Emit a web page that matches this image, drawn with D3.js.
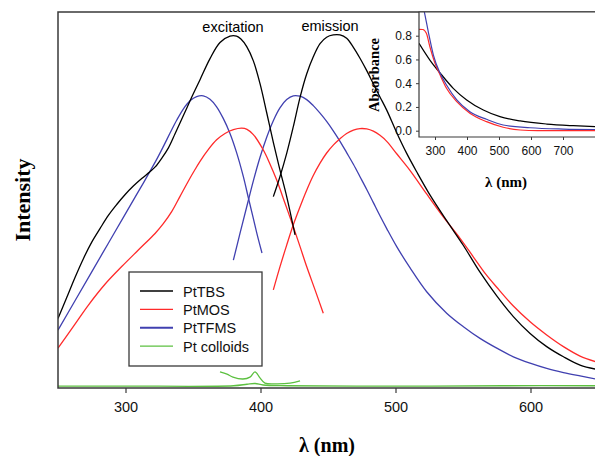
<!DOCTYPE html>
<html>
<head>
<meta charset="utf-8">
<script src="https://cdn.jsdelivr.net/npm/d3@7"></script>
<style>
  html, body { margin: 0; padding: 0; background: #fff; }
  svg { display: block; }
</style>
</head>
<body>
<svg id="chart" width="595" height="456"></svg>
<script>
// Series names and colours
const seriesNames = ["PtTBS", "PtMOS", "PtTFMS", "Pt colloids"];
const seriesColors = ["#000000", "#ff2a2a", "#4040b0", "#5cc040"];

// Main panel: photoluminescence spectra, [wavelength nm, intensity a.u.]
const tbsExcitation = [[250,18.5],[256.4,24.0],[262.6,29.4],[268.8,34.4],[275,38.8],[281.1,42.4],[287.3,45.9],[293.5,48.8],[299.6,51.4],[305.8,53.7],[312,55.7],[318.1,57.5],[322,58.8],[326.8,61.1],[331.7,63.8],[336.7,67.6],[342.8,72.4],[349,77.3],[355.2,82.0],[362.6,87.6],[370,91.9],[377.4,93.6],[382.3,93.6],[385.5,92.8],[389.8,90.8],[394.7,87.0],[399.6,81.0],[404.6,73.2],[409.5,65.3],[414.4,58.0],[419.4,50.9],[425.6,40.7]];
const tbsEmission = [[409.5,50.9],[414.4,56.2],[419.4,62.4],[424.3,69.5],[429.3,77.3],[434.2,83.5],[439.1,88.1],[444.1,91.6],[449,93.3],[453.9,93.9],[458.9,93.9],[463.8,93.0],[468.8,90.6],[473.7,87.7],[478.7,84.4],[483.6,80.9],[488.5,77.4],[493.5,73.9],[500.9,67.9],[508.3,62.4],[515.7,57.5],[525.6,51.3],[537.9,44.5],[550.3,37.9],[562.6,30.8],[575,24.5],[587.3,19.0],[599.7,14.5],[612,11.0],[624.4,8.3],[636.7,6.1],[650,4.9]];
const mosExcitation = [[250,10.6],[262.6,17.0],[272.4,22.0],[284.8,27.6],[297.2,32.3],[309.5,36.7],[321.9,41.1],[328,43.7],[334.2,46.9],[340.3,50.9],[346.5,55.0],[351.5,58.1],[355.2,60.3],[361.3,63.4],[367.5,66.0],[373.7,67.7],[379.9,68.7],[386,69.1],[390,68.8],[394.7,67.4],[402.1,63.3],[407,59.6],[412,55.3],[418.1,49.2],[424.3,42.9],[429.3,37.6],[434.2,32.3],[440.4,26.1],[446.5,19.9]];
const mosEmission = [[409.5,26.1],[414.4,32.2],[419.4,38.0],[424.3,43.4],[429.3,48.2],[434.2,52.6],[439.1,56.5],[444.1,59.8],[449,62.5],[453.9,64.6],[458.9,66.3],[463.8,67.7],[468.8,68.6],[473.7,69.0],[478.7,68.9],[483.6,68.3],[488.5,67.2],[493.5,65.6],[500.9,62.3],[510.7,57.9],[523.1,51.6],[535.4,45.5],[547.8,39.8],[557.6,34.9],[567,30.2],[575,26.8],[587.3,21.8],[599.7,17.6],[612,14.1],[624.4,11.0],[636.7,8.5],[650,6.8]];
const tfmsExcitation = [[250,15.4],[262.6,23.2],[275,30.9],[287.3,38.5],[299.6,46.1],[308.3,51.5],[313.2,54.5],[318.1,57.6],[323.1,60.8],[328,64.2],[333,67.8],[337.9,71.2],[342.8,74.2],[347.8,76.4],[352.7,77.5],[357.6,77.7],[362.6,76.8],[367.5,74.8],[372.4,71.7],[377.4,67.7],[382.3,62.6],[387.3,56.2],[391,50.6],[394.5,45.4],[397.4,41.0],[401.1,35.9]];
const tfmsEmission = [[379.9,34.0],[384.8,41.1],[389.8,48.2],[394.7,55.1],[399.6,61.3],[404.6,66.7],[409.5,71.1],[414.4,74.5],[419.4,76.7],[424.3,77.7],[429.3,77.6],[434.2,76.7],[439.1,75.1],[444.1,73.1],[449,70.9],[453.9,68.4],[458.9,65.6],[463.8,62.6],[468.8,59.5],[473.7,56.2],[478.7,52.8],[483.6,49.3],[488.5,45.8],[493.5,42.4],[500.9,37.6],[510.7,32.0],[523.1,25.6],[537.9,19.9],[550.3,16.3],[562.6,13.2],[575,10.6],[587.3,8.3],[599.7,6.6],[612,5.2],[624.4,4.1],[636.7,3.2],[650,2.3]];
const colloidExcitation = [[370,4.3],[375.2,3.7],[379.6,2.9],[387,2.4],[392.2,2.9],[395.9,4.3],[399.6,2.7],[403.3,1.3],[412.2,1.1],[421.9,1.3],[429.3,1.9]];
const colloidEmission = [[250,0.5],[300,0.5],[380,0.6],[390,1.0],[396,1.2],[402,0.8],[420,0.6],[500,0.5],[580,0.6],[650,0.6]];

// Inset: absorption spectra, [wavelength nm, absorbance]
const tbsAbsorbance = [[250,0.736],[284,0.595],[321,0.469],[357,0.357],[399,0.259],[451,0.174],[503,0.118],[566,0.082],[649,0.056],[732,0.042],[800,0.034]];
const mosAbsorbance = [[250,0.854],[262,0.852],[273,0.82],[284,0.707],[300,0.568],[316,0.469],[336,0.357],[368,0.244],[409,0.147],[461,0.076],[513,0.029],[566,0.006],[620,0.0],[800,0.0]];
const tfmsAbsorbance = [[250,1.2],[267,0.997],[280,0.82],[295,0.637],[316,0.483],[336,0.385],[368,0.259],[409,0.16],[461,0.096],[513,0.048],[597,0.025],[701,0.014],[800,0.01]];

const mainTicks = [300, 400, 500, 600];
const insetXTicks = [300, 400, 500, 600, 700];
const insetYTicks = [0.0, 0.2, 0.4, 0.6, 0.8];

const svg = d3.select("#chart");
const axisColor = "#3a3a3a";
const sans = "Arial, 'Liberation Sans', Helvetica, sans-serif";
const serif = "'Times New Roman', 'Liberation Serif', Times, serif";

// ---------- main panel ----------
const M = { left: 58, top: 12, right: 598, bottom: 388 };
const x = d3.scaleLinear().domain([250, 650]).range([M.left, M.right]);
const y = d3.scaleLinear().domain([0, 100]).range([M.bottom, M.top]);

svg.append("defs").append("clipPath").attr("id", "mainClip")
  .append("rect").attr("x", M.left).attr("y", M.top)
  .attr("width", M.right - M.left).attr("height", M.bottom - M.top);

const line = d3.line().x(d => x(d[0])).y(d => y(d[1])).curve(d3.curveCatmullRom.alpha(0.5));

const mainSeries = [
  { data: colloidEmission, c: 3 },
  { data: colloidExcitation, c: 3 },
  { data: tfmsExcitation, c: 2 },
  { data: tfmsEmission, c: 2 },
  { data: mosExcitation, c: 1 },
  { data: mosEmission, c: 1 },
  { data: tbsExcitation, c: 0 },
  { data: tbsEmission, c: 0 }
];
const plot = svg.append("g").attr("clip-path", "url(#mainClip)");
plot.selectAll("path.spec").data(mainSeries).join("path")
  .attr("class", "spec")
  .attr("d", d => line(d.data))
  .attr("fill", "none")
  .attr("stroke", d => seriesColors[d.c])
  .attr("stroke-width", 1.3)
  .attr("stroke-linejoin", "round");

// frame: left, top and bottom lines
svg.append("path")
  .attr("d", `M${M.right},${M.top}H${M.left}V${M.bottom}H${M.right}`)
  .attr("fill", "none").attr("stroke", axisColor).attr("stroke-width", 1.5);

const xAxis = svg.append("g").attr("transform", `translate(0,${M.bottom})`)
  .call(d3.axisBottom(x).tickValues(mainTicks).tickSize(5).tickPadding(9));
xAxis.select(".domain").remove();
xAxis.selectAll("line").attr("stroke", axisColor).attr("stroke-width", 1.2);
xAxis.selectAll("text").attr("font-family", sans).attr("font-size", 14.5).attr("fill", "#111");

svg.append("text").attr("x", 327).attr("y", 452).attr("text-anchor", "middle")
  .attr("font-family", serif).attr("font-weight", "bold").attr("font-size", 20)
  .text("λ (nm)");
svg.append("text").attr("transform", "translate(30,200) rotate(-90)")
  .attr("text-anchor", "middle")
  .attr("font-family", serif).attr("font-weight", "bold").attr("font-size", 22)
  .text("Intensity");

// peak annotations
svg.append("text").attr("x", 233).attr("y", 32).attr("text-anchor", "middle")
  .attr("font-family", sans).attr("font-size", 14.5).text("excitation");
svg.append("text").attr("x", 330).attr("y", 31).attr("text-anchor", "middle")
  .attr("font-family", sans).attr("font-size", 14.5).text("emission");

// legend
const legend = svg.append("g");
legend.append("rect").attr("x", 129).attr("y", 272).attr("width", 133).attr("height", 94)
  .attr("fill", "#fff").attr("stroke", axisColor).attr("stroke-width", 1.3);
const items = legend.selectAll("g.item").data(seriesNames).join("g")
  .attr("class", "item")
  .attr("transform", (d, i) => `translate(0,${291 + i * 18.4})`);
items.append("line").attr("x1", 140).attr("x2", 173)
  .attr("stroke", (d, i) => seriesColors[i]).attr("stroke-width", (d, i) => i === 2 ? 2 : 1.3);
items.append("text").attr("x", 183).attr("y", 5.5)
  .attr("font-family", sans).attr("font-size", 14.5).attr("fill", "#111").text(d => d);

// ---------- inset: absorbance ----------
const I = { left: 419, top: 12, right: 595, bottom: 137 };
const xi = d3.scaleLinear().domain([250, 800]).range([I.left, I.left + 550 * 0.32]);
const yi = d3.scaleLinear().domain([0, 0.8]).range([130.7, 35.7]);

svg.append("rect").attr("x", I.left).attr("y", I.top)
  .attr("width", I.right - I.left).attr("height", I.bottom - I.top).attr("fill", "#fff");
svg.select("defs").append("clipPath").attr("id", "insetClip")
  .append("rect").attr("x", I.left).attr("y", I.top)
  .attr("width", I.right - I.left).attr("height", I.bottom - I.top);

const iline = d3.line().x(d => xi(d[0])).y(d => yi(d[1])).curve(d3.curveMonotoneX);
const insetSeries = [
  { data: tbsAbsorbance, c: 0 },
  { data: mosAbsorbance, c: 1 },
  { data: tfmsAbsorbance, c: 2 }
];
svg.append("g").attr("clip-path", "url(#insetClip)")
  .selectAll("path").data(insetSeries).join("path")
  .attr("d", d => iline(d.data))
  .attr("fill", "none")
  .attr("stroke", d => seriesColors[d.c])
  .attr("stroke-width", 1.2);

svg.append("path")
  .attr("d", `M${I.right},${I.top}H${I.left}V${I.bottom}H${I.right}`)
  .attr("fill", "none").attr("stroke", axisColor).attr("stroke-width", 1.2);

const ixAxis = svg.append("g").attr("transform", `translate(0,${I.bottom})`)
  .call(d3.axisBottom(xi).tickValues(insetXTicks).tickSize(3).tickPadding(6));
ixAxis.select(".domain").remove();
ixAxis.selectAll("line").attr("stroke", axisColor);
ixAxis.selectAll("text").attr("font-family", sans).attr("font-size", 12).attr("fill", "#111");

const iyAxis = svg.append("g").attr("transform", `translate(${I.left},0)`)
  .call(d3.axisLeft(yi).tickValues(insetYTicks).tickSize(3).tickPadding(4).tickFormat(d3.format(".1f")));
iyAxis.select(".domain").remove();
iyAxis.selectAll("line").attr("stroke", axisColor);
iyAxis.selectAll("text").attr("font-family", sans).attr("font-size", 12).attr("fill", "#111");

svg.append("text").attr("x", 506).attr("y", 187).attr("text-anchor", "middle")
  .attr("font-family", serif).attr("font-weight", "bold").attr("font-size", 15)
  .text("λ (nm)");
svg.append("text").attr("transform", "translate(379,75) rotate(-90)")
  .attr("text-anchor", "middle")
  .attr("font-family", serif).attr("font-weight", "bold").attr("font-size", 14.5)
  .text("Absorbance");
</script>
</body>
</html>
